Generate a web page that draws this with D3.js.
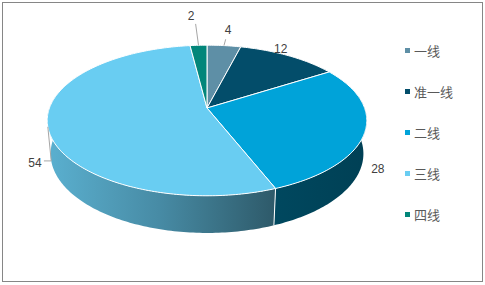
<!DOCTYPE html>
<html>
<head>
<meta charset="utf-8">
<script src="https://cdn.jsdelivr.net/npm/d3@7"></script>
<style>
  body { margin: 0; background: #fff; }
</style>
</head>
<body>
<script>
// data
var categories = ['一线', '准一线', '二线', '三线', '四线'];
var values = [4, 12, 28, 54, 2];
var colors = ['#5E8FA6', '#034D6A', '#00A3D9', '#69CDF2', '#02867A'];

// where each data label sits (radius factor, angle nudge in degrees, which face)
var labelLayout = [
  { r: 1.3, da: 0, plane: 'top', leader: 'radial' },
  { r: 1.08, da: -6, plane: 'top', leader: null },
  { r: 1.1, da: 0, plane: 'bottom', leader: null },
  { r: 1.1, da: 0, plane: 'bottom', leader: 'side' },
  { r: 1.6, da: -1, plane: 'top', leader: 'radial' }
];

var chartVars = {
  svg: null,
  width: 485,
  height: 285,
  cx: 207,
  cy: 108,
  f: 843,
  D: 5.35,
  tilt: 27.7,
  thick: 0.241
};

var sinT = Math.sin(chartVars.tilt * Math.PI / 180);
var cosT = Math.cos(chartVars.tilt * Math.PI / 180);

// 3d pie point -> screen. a = angle clockwise from 12 o'clock, r = radius, y = height
var project = function(a, r, y) {
  var x = r * Math.sin(a), z = -r * Math.cos(a);
  var depth = chartVars.D - (z * cosT + y * sinT);
  return [chartVars.cx + chartVars.f * x / depth, chartVars.cy + chartVars.f * (z * sinT - y * cosT) / depth];
};

var arcPoints = function(a0, a1, r, y) {
  var n = Math.max(2, Math.ceil((a1 - a0) / (Math.PI / 180)));
  var pts = [];
  for (var i = 0; i <= n; i++) {
    pts.push(project(a0 + (a1 - a0) * i / n, r, y));
  }
  return pts;
};

var svg = d3.select('body').append('svg').attr('width', chartVars.width).attr('height', chartVars.height);
chartVars.svg = svg;

var pie = d3.pie().sort(null).value(function(d) { return d; });
var slices = pie(values);
var line = d3.line();

// screen extent of the pie, for the side shading
var rim = d3.range(0, 360).map(function(d) { return project(d * Math.PI / 180, 1, 0); });
var left = d3.min(rim, function(p) { return p[0]; });
var right = d3.max(rim, function(p) { return p[0]; });
var light = d3.scaleLinear().domain([0, 0.35, 0.71, 1]).range([0.86, 0.68, 0.44, 0.39]);

var defs = svg.append('defs');
slices.forEach(function(s, i) {
  var base = d3.rgb(colors[i]);
  var grad = defs.append('linearGradient').attr('id', 'side' + i)
    .attr('gradientUnits', 'userSpaceOnUse')
    .attr('x1', left).attr('x2', right).attr('y1', 0).attr('y2', 0);
  [0, 0.2, 0.35, 0.5, 0.71, 0.85, 1].forEach(function(o) {
    var k = light(o);
    grad.append('stop').attr('offset', o)
      .attr('stop-color', d3.rgb(base.r * k, base.g * k, base.b * k).formatHex());
  });
});

// side walls, back first
var lo = 80 * Math.PI / 180, hi = 280 * Math.PI / 180;
var sides = slices.map(function(s, i) {
  var a0 = Math.max(s.startAngle, lo), a1 = Math.min(s.endAngle, hi);
  return { i: i, a0: a0, a1: a1, mid: Math.abs((a0 + a1) / 2 - Math.PI) };
}).filter(function(d) { return d.a1 > d.a0; })
  .sort(function(a, b) { return b.mid - a.mid; });

svg.append('g').selectAll('path').data(sides).enter().append('path')
  .attr('d', function(d) {
    var top = arcPoints(d.a0, d.a1, 1, 0);
    var bottom = arcPoints(d.a0, d.a1, 1, -chartVars.thick).reverse();
    return line(top.concat(bottom)) + 'Z';
  })
  .attr('fill', function(d) { return 'url(#side' + d.i + ')'; });

// white edges between side walls
var frontA = 102 * Math.PI / 180, frontB = 258 * Math.PI / 180;
slices.forEach(function(s) {
  if (s.startAngle > frontA && s.startAngle < frontB) {
    var p0 = project(s.startAngle, 1, 0), p1 = project(s.startAngle, 1, -chartVars.thick);
    svg.append('line').attr('x1', p0[0]).attr('y1', p0[1]).attr('x2', p1[0]).attr('y2', p1[1])
      .attr('stroke', '#fff').attr('stroke-width', 1);
  }
});

// top faces
svg.append('g').selectAll('path').data(slices).enter().append('path')
  .attr('d', function(s) {
    var pts = [project(0, 0, 0)].concat(arcPoints(s.startAngle, s.endAngle, 1, 0));
    return line(pts) + 'Z';
  })
  .attr('fill', function(s, i) { return colors[i]; })
  .attr('stroke', '#fff')
  .attr('stroke-width', 1)
  .attr('stroke-linejoin', 'round');

// data labels and leader lines
slices.forEach(function(s, i) {
  var lay = labelLayout[i];
  var mid = (s.startAngle + s.endAngle) / 2;
  var y = lay.plane === 'top' ? 0 : -chartVars.thick;
  var p = project(mid + lay.da * Math.PI / 180, lay.r, y);
  if (lay.leader === 'radial') {
    var e0 = project(mid, 1, 0), e1 = project(mid, lay.r - 0.18, 0);
    svg.append('line').attr('x1', e0[0]).attr('y1', e0[1]).attr('x2', e1[0]).attr('y2', e1[1])
      .attr('stroke', '#A6A6A6').attr('stroke-width', 1);
  }
  if (lay.leader === 'side') {
    var t0 = project(mid, 1, 0), t1 = project(mid, 1, -chartVars.thick);
    svg.append('path').attr('d', line([t0, t1, [p[0] + 9, t1[1]]]))
      .attr('fill', 'none').attr('stroke', '#A6A6A6').attr('stroke-width', 1);
  }
  svg.append('text').attr('x', p[0]).attr('y', p[1])
    .attr('text-anchor', 'middle').attr('dominant-baseline', 'central')
    .attr('font-family', '"Liberation Sans", Arial, sans-serif').attr('font-size', 12)
    .attr('fill', '#404040')
    .text(values[i]);
});

// legend
var legend = svg.append('g').attr('transform', 'translate(405,50.5)');
var item = legend.selectAll('g').data(categories).enter().append('g')
  .attr('transform', function(d, i) { return 'translate(0,' + (i * 41) + ')'; });
item.append('rect').attr('x', 0).attr('y', -2.5).attr('width', 5).attr('height', 5)
  .attr('fill', function(d, i) { return colors[i]; });
item.append('text').attr('x', 9).attr('y', 0).attr('dominant-baseline', 'central')
  .attr('font-family', '"Noto Sans CJK SC", sans-serif').attr('font-size', 13)
  .attr('fill', '#595959')
  .text(function(d) { return d; });

// chart border
svg.append('rect').attr('x', 2.5).attr('y', 2.5).attr('width', 480).attr('height', 279)
  .attr('fill', 'none').attr('stroke', '#868686').attr('stroke-width', 1);
</script>
</body>
</html>
